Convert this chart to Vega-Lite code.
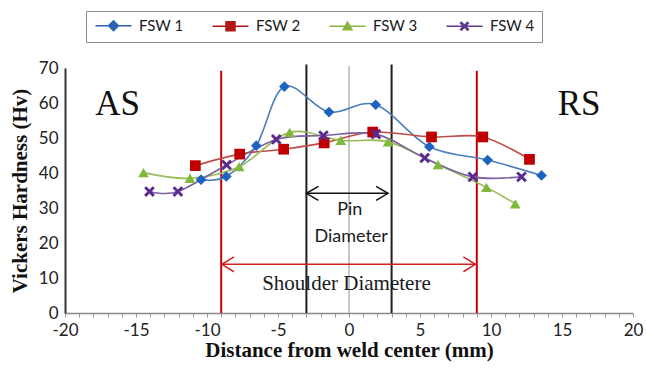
{
  "$schema": "https://vega.github.io/schema/vega-lite/v6.json",
  "autosize": {"type": "none"},
  "width": 568,
  "height": 245,
  "padding": {"left": 65, "top": 68, "right": 13, "bottom": 56},
  "background": "white",
  "config": {"view": {"stroke": null}, "axis": {"grid": false}},
  "datasets": {
    "hardness": [
      {"series": "FSW 1", "x": -10.42, "hv": 38.1},
      {"series": "FSW 1", "x": -8.64, "hv": 39.0},
      {"series": "FSW 1", "x": -6.53, "hv": 47.8},
      {"series": "FSW 1", "x": -4.55, "hv": 64.7},
      {"series": "FSW 1", "x": -1.41, "hv": 57.4},
      {"series": "FSW 1", "x": 1.88, "hv": 59.5},
      {"series": "FSW 1", "x": 5.66, "hv": 47.5},
      {"series": "FSW 1", "x": 9.76, "hv": 43.7},
      {"series": "FSW 1", "x": 13.56, "hv": 39.3},
      {"series": "FSW 2", "x": -10.82, "hv": 42.1},
      {"series": "FSW 2", "x": -7.7, "hv": 45.4},
      {"series": "FSW 2", "x": -4.6, "hv": 46.8},
      {"series": "FSW 2", "x": -1.75, "hv": 48.6},
      {"series": "FSW 2", "x": 1.67, "hv": 51.7},
      {"series": "FSW 2", "x": 5.81, "hv": 50.3},
      {"series": "FSW 2", "x": 9.42, "hv": 50.3},
      {"series": "FSW 2", "x": 12.71, "hv": 43.9},
      {"series": "FSW 3", "x": -14.47, "hv": 40.1},
      {"series": "FSW 3", "x": -11.2, "hv": 38.5},
      {"series": "FSW 3", "x": -7.73, "hv": 41.8},
      {"series": "FSW 3", "x": -4.18, "hv": 51.6},
      {"series": "FSW 3", "x": -0.58, "hv": 49.3},
      {"series": "FSW 3", "x": 2.75, "hv": 48.9},
      {"series": "FSW 3", "x": 6.27, "hv": 42.4},
      {"series": "FSW 3", "x": 9.68, "hv": 35.9},
      {"series": "FSW 3", "x": 11.71, "hv": 31.2},
      {"series": "FSW 4", "x": -14.05, "hv": 34.7},
      {"series": "FSW 4", "x": -12.05, "hv": 34.7},
      {"series": "FSW 4", "x": -8.62, "hv": 42.3},
      {"series": "FSW 4", "x": -5.12, "hv": 49.6},
      {"series": "FSW 4", "x": -1.8, "hv": 50.7},
      {"series": "FSW 4", "x": 1.9, "hv": 51.1},
      {"series": "FSW 4", "x": 5.33, "hv": 44.3},
      {"series": "FSW 4", "x": 8.72, "hv": 38.9},
      {"series": "FSW 4", "x": 12.15, "hv": 38.9}
    ]
  },
  "encoding": {
    "x": {
      "field": "x", "type": "quantitative",
      "scale": {"domain": [-20, 20], "nice": false, "zero": false},
      "axis": {
        "values": [-20,-19,-18,-17,-16,-15,-14,-13,-12,-11,-10,-9,-8,-7,-6,-5,-4,-3,-2,-1,0,1,2,3,4,5,6,7,8,9,10,11,12,13,14,15,16,17,18,19,20],
        "labelExpr": "(datum.value % 5 == 0) ? ('' + datum.value) : ''",
        "title": "Distance from weld center (mm)",
        "titleFont": "Liberation Serif", "titleFontSize": 21, "titleFontWeight": "bold", "titleColor": "#111111", "titlePadding": 1,
        "labelFont": "Lato", "labelFontSize": 17, "labelColor": "#222222", "labelPadding": 5, "labelFlush": false, "labelOverlap": false, "labelBound": false,
        "domainColor": "#8a8a8a", "domainWidth": 1.5, "tickColor": "#9a9a9a", "tickSize": 4, "tickWidth": 1
      }
    },
    "y": {
      "field": "hv", "type": "quantitative",
      "scale": {"domain": [0, 70], "nice": false},
      "axis": {
        "values": [0, 10, 20, 30, 40, 50, 60, 70],
        "title": "Vickers Hardness (Hv)",
        "titleFont": "Liberation Serif", "titleFontSize": 21, "titleFontWeight": "bold", "titleColor": "#111111", "titlePadding": 8,
        "labelFont": "Lato", "labelFontSize": 17, "labelColor": "#222222", "labelPadding": 7, "labelFlush": false, "labelOverlap": false,
        "ticks": false, "domainColor": "#333333", "domainWidth": 2
      }
    }
  },
  "layer": [
    {
      "data": {"values": [{"x": 0, "hv": 0, "top": 70.5}]},
      "mark": {"type": "rule", "color": "#b4b4b4", "strokeWidth": 1.5},
      "encoding": {"y2": {"field": "top"}}
    },
    {
      "data": {"values": [{"x": -3, "hv": 0, "top": 71}, {"x": 3, "hv": 0, "top": 71}]},
      "mark": {"type": "rule", "color": "#1e1e1e", "strokeWidth": 2},
      "encoding": {"y2": {"field": "top"}}
    },
    {
      "data": {"values": [{"x": -9, "hv": 0, "top": 69.2}, {"x": 9, "hv": 0, "top": 69.2}]},
      "mark": {"type": "rule", "color": "#c00000", "strokeWidth": 2},
      "encoding": {"y2": {"field": "top"}}
    },
    {
      "data": {"values": [{"x": -3, "xe": 2.75, "hv": 34.2}]},
      "mark": {"type": "rule", "color": "#111111", "strokeWidth": 1.5},
      "encoding": {"x2": {"field": "xe"}}
    },
    {
      "data": {"values": [{"x": -3, "hv": 34.2}]},
      "mark": {"type": "point", "shape": "M3,-1.75L0,0L3,1.75", "filled": false, "size": 64, "color": "#111111", "strokeWidth": 1.5, "opacity": 1}
    },
    {
      "data": {"values": [{"x": 2.75, "hv": 34.2}]},
      "mark": {"type": "point", "shape": "M-3,-1.75L0,0L-3,1.75", "filled": false, "size": 64, "color": "#111111", "strokeWidth": 1.5, "opacity": 1}
    },
    {
      "data": {"values": [{"x": -8.95, "xe": 8.9, "hv": 13.9}]},
      "mark": {"type": "rule", "color": "#d42020", "strokeWidth": 1.5},
      "encoding": {"x2": {"field": "xe"}}
    },
    {
      "data": {"values": [{"x": -8.95, "hv": 13.9}]},
      "mark": {"type": "point", "shape": "M3,-1.85L0,0L3,1.85", "filled": false, "size": 64, "color": "#d42020", "strokeWidth": 1.5, "opacity": 1}
    },
    {
      "data": {"values": [{"x": 8.9, "hv": 13.9}]},
      "mark": {"type": "point", "shape": "M-3,-1.85L0,0L-3,1.85", "filled": false, "size": 64, "color": "#d42020", "strokeWidth": 1.5, "opacity": 1}
    },
    {
      "data": {"values": [{"x": 0.05, "hv": 28, "t": "Pin"}, {"x": 0.15, "hv": 20.4, "t": "Diameter"}]},
      "mark": {"type": "text", "font": "Lato", "fontSize": 18, "color": "#1a1a1a", "align": "center", "baseline": "alphabetic"},
      "encoding": {"text": {"field": "t"}}
    },
    {
      "data": {"values": [{"x": -0.18, "hv": 6.6, "t": "Shoulder Diametere"}]},
      "mark": {"type": "text", "font": "Liberation Serif", "fontSize": 21, "color": "#1a1a1a", "align": "center", "baseline": "alphabetic"},
      "encoding": {"text": {"field": "t"}}
    },
    {
      "data": {"values": [{"x": -16.3, "hv": 56.6, "t": "AS"}, {"x": 16.2, "hv": 56.6, "t": "RS"}]},
      "mark": {"type": "text", "font": "Liberation Serif", "fontSize": 35, "color": "#111111", "align": "center", "baseline": "alphabetic"},
      "encoding": {"text": {"field": "t"}}
    },
    {
      "data": {"name": "hardness"},
      "mark": {"type": "line", "interpolate": "cardinal", "strokeWidth": 1.6},
      "encoding": {
        "detail": {"field": "series"},
        "stroke": {
          "field": "series", "type": "nominal",
          "scale": {"domain": ["FSW 1", "FSW 2", "FSW 3", "FSW 4"], "range": ["#4a7ebb", "#be4b48", "#9bbb59", "#7d60a0"]},
          "legend": null
        }
      }
    },
    {
      "data": {"name": "hardness"},
      "mark": {"type": "point", "filled": true, "opacity": 1, "size": 115, "strokeWidth": 0},
      "encoding": {
        "fill": {
          "field": "series", "type": "nominal",
          "scale": {"domain": ["FSW 1", "FSW 2", "FSW 3", "FSW 4"], "range": ["#1f63c0", "#c00000", "#80b93a", "#5a2a90"]},
          "legend": null
        },
        "shape": {
          "field": "series", "type": "nominal",
          "scale": {"domain": ["FSW 1", "FSW 2", "FSW 3", "FSW 4"], "range": ["diamond", "square", "triangle-up", "M-1,-0.62L-0.62,-1L0,-0.38L0.62,-1L1,-0.62L0.38,0L1,0.62L0.62,1L0,0.38L-0.62,1L-1,0.62L-0.38,0Z"]},
          "legend": null
        }
      }
    },
    {
      "data": {"name": "hardness"},
      "transform": [{"filter": "false"}],
      "mark": {"type": "point", "filled": true, "opacity": 1, "size": 100, "strokeWidth": 0},
      "encoding": {
        "fill": {
          "field": "series", "type": "nominal",
          "scale": {"domain": ["FSW 1", "FSW 2", "FSW 3", "FSW 4"], "range": ["#2a62b0", "#b01818", "#86b440", "#5e3a90"]},
          "legend": {
            "title": null, "orient": "none", "legendX": 21, "legendY": -57, "direction": "horizontal", "columns": 4,
            "padding": 7, "strokeColor": "#8c8c8c", "fillColor": "white",
            "symbolSize": 100, "symbolOffset": 13, "labelOffset": 18, "columnPadding": 25,
            "labelFont": "Lato", "labelFontSize": 15, "labelColor": "#1a1a1a"
          }
        },
        "shape": {
          "field": "series", "type": "nominal",
          "scale": {"domain": ["FSW 1", "FSW 2", "FSW 3", "FSW 4"], "range": [
            "M-3.6,-0.15H3.6V0.15H-3.6Z M0,-1.2L1.2,0L0,1.2L-1.2,0Z",
            "M-3.6,-0.15H3.6V0.15H-3.6Z M-1.05,-1.05H1.05V1.05H-1.05Z",
            "M-3.6,-0.15H3.6V0.15H-3.6Z M0,-1.15L1.15,0.85H-1.15Z",
            "M-3.6,-0.15H3.6V0.15H-3.6Z M-1,-0.62L-0.62,-1L0,-0.38L0.62,-1L1,-0.62L0.38,0L1,0.62L0.62,1L0,0.38L-0.62,1L-1,0.62L-0.38,0Z"
          ]},
          "legend": {
            "title": null, "orient": "none", "legendX": 21, "legendY": -57, "direction": "horizontal", "columns": 4,
            "padding": 7, "strokeColor": "#8c8c8c", "fillColor": "white",
            "symbolSize": 100, "symbolOffset": 13, "labelOffset": 18, "columnPadding": 25,
            "labelFont": "Lato", "labelFontSize": 15, "labelColor": "#1a1a1a"
          }
        }
      }
    }
  ],
  "resolve": {"scale": {"fill": "independent", "shape": "independent"}}
}
